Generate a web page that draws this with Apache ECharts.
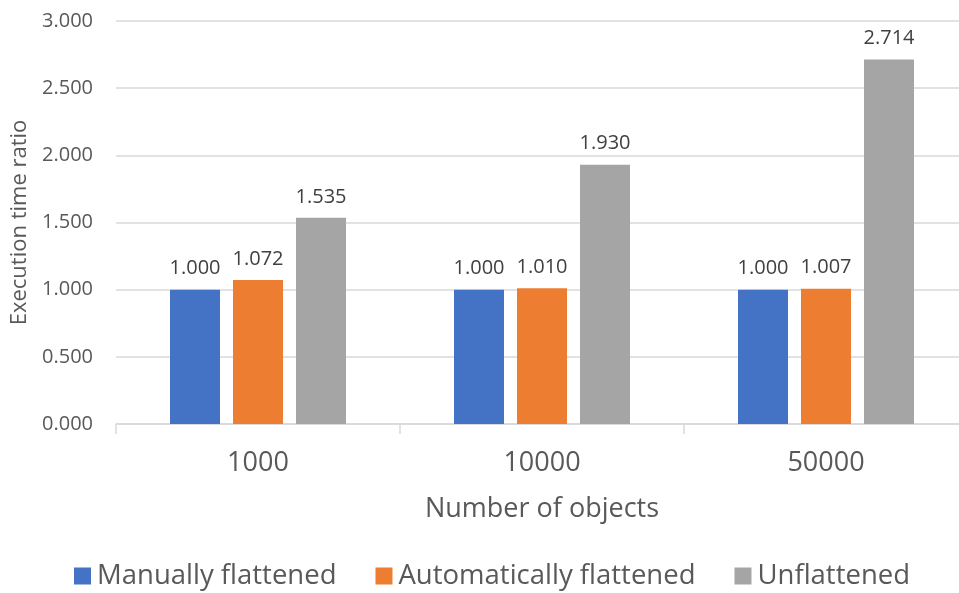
<!DOCTYPE html>
<html>
<head>
<meta charset="utf-8">
<script src="https://cdn.jsdelivr.net/npm/echarts@6/dist/echarts.min.js"></script>
<style>
  html, body { margin: 0; padding: 0; background: #fff; }
  #chart { width: 959px; height: 593px; }
</style>
</head>
<body>
<div id="chart"></div>
<script>
// Execution time ratio by number of objects
const categories = ['1000', '10000', '50000'];
const manuallyFlattened = [1.000, 1.000, 1.000];
const automaticallyFlattened = [1.072, 1.010, 1.007];
const unflattened = [1.535, 1.930, 2.714];
const yTicks = [0, 0.5, 1, 1.5, 2, 2.5, 3];

const FONT = '"Open Sans", "Noto Sans", sans-serif';
const chart = echarts.init(document.getElementById('chart'), null, { renderer: 'canvas' });

const labelStyle = {
  show: true,
  position: 'top',
  distance: 11,
  color: '#404040',
  fontFamily: FONT,
  fontSize: 20,
  formatter: p => p.value.toFixed(3)
};

function bar(name, data, color) {
  return {
    name: name,
    type: 'bar',
    data: data,
    barWidth: 50,
    barGap: '26%',
    itemStyle: { color: color },
    label: labelStyle
  };
}

chart.setOption({
  animation: false,
  backgroundColor: '#ffffff',
  textStyle: { fontFamily: FONT },
  grid: {
    left: 116, top: 21, width: 852, height: 403,
    containLabel: false,
    outerBoundsMode: 'none'
  },
  legend: {
    bottom: -2,
    left: 69,
    itemWidth: 17,
    itemHeight: 17,
    itemGap: 39,
    icon: 'rect',
    textStyle: { fontFamily: FONT, fontSize: 27.5, color: '#595959', padding: [0, 0, 0, 1] },
    data: ['Manually flattened', 'Automatically flattened', 'Unflattened']
  },
  xAxis: {
    type: 'category',
    data: categories,
    name: 'Number of objects',
    nameLocation: 'middle',
    nameGap: 72,
    nameTextStyle: { fontFamily: FONT, fontSize: 27, color: '#595959' },
    axisLine: { lineStyle: { color: '#d9d9d9', width: 1.5 } },
    axisTick: { show: true, length: 10, lineStyle: { color: '#d9d9d9', width: 1.5 } },
    axisLabel: { fontFamily: FONT, fontSize: 27, color: '#595959', margin: 26 }
  },
  yAxis: {
    type: 'value',
    min: yTicks[0],
    max: yTicks[yTicks.length - 1],
    interval: yTicks[1] - yTicks[0],
    name: 'Execution time ratio',
    nameLocation: 'middle',
    nameRotate: 90,
    nameGap: 85,
    nameTextStyle: { fontFamily: FONT, fontSize: 22, color: '#595959' },
    axisLine: { show: false },
    axisTick: { show: false },
    splitLine: { lineStyle: { color: '#d9d9d9', width: 1.5 } },
    axisLabel: {
      fontFamily: FONT, fontSize: 20, color: '#595959', margin: 23,
      formatter: v => v.toFixed(3)
    }
  },
  series: [
    bar('Manually flattened', manuallyFlattened, '#4472c4'),
    bar('Automatically flattened', automaticallyFlattened, '#ed7d31'),
    bar('Unflattened', unflattened, '#a5a5a5')
  ]
});
</script>
</body>
</html>
